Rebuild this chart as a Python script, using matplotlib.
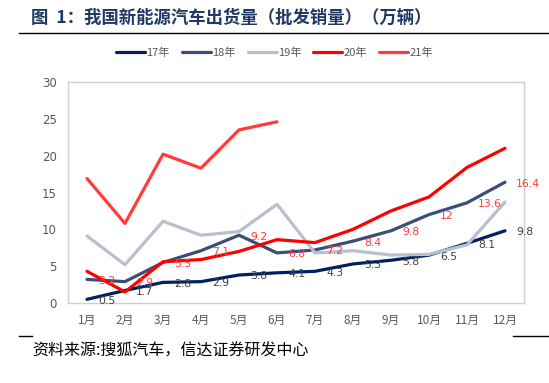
import matplotlib

matplotlib.use("Agg")
import matplotlib.pyplot as plt

plt.rcParams["font.family"] = ["Noto Sans CJK SC", "DejaVu Sans"]

months = ["1月", "2月", "3月", "4月", "5月", "6月",
          "7月", "8月", "9月", "10月", "11月", "12月"]
y17 = [0.5, 1.7, 2.8, 2.9, 3.8, 4.1, 4.3, 5.3, 5.8, 6.5, 8.1, 9.8]
y18 = [3.2, 2.9, 5.5, 7.1, 9.2, 6.8, 7.2, 8.4, 9.8, 12, 13.6, 16.4]
y19 = [9.1, 5.2, 11.1, 9.2, 9.7, 13.4, 6.8, 7.1, 6.5, 6.6, 7.9, 13.7]
y20 = [4.3, 1.5, 5.6, 5.9, 7.0, 8.6, 8.2, 10.0, 12.5, 14.4, 18.4, 21.0]
y21 = [16.9, 10.8, 20.2, 18.3, 23.5, 24.6]

series = [
    ("17年", y17, "#002060"),
    ("18年", y18, "#3B4E78"),
    ("19年", y19, "#B7C0CF"),
    ("20年", y20, "#FF0000"),
    ("21年", y21, "#FF3B3B"),
]

fig = plt.figure(figsize=(5.49, 3.83), dpi=100)
ax = fig.add_axes([68 / 549, 1 - 303 / 383, (524 - 68) / 549, (303 - 82) / 383])

x = list(range(len(months)))
for name, vals, color in series:
    ax.plot(x[:len(vals)], vals, color=color, lw=2.3, label=name,
            solid_capstyle="round")

# data labels: 17年 in dark grey, 18年 in red, placed right of the points
for vals, color in [(y17, "#404040"), (y18, "#FF3B3B")]:
    for i, v in enumerate(vals):
        ax.annotate(f"{v:g}", (i, v), xytext=(8, -1), textcoords="offset points",
                    ha="left", va="center", fontsize=7.8, color=color,
                    family="DejaVu Sans")

ax.set_xlim(-0.5, 11.5)
ax.set_ylim(0, 30)
ax.set_yticks(range(0, 31, 5))
ax.set_xticks(x)
ax.set_xticklabels(months)
ax.tick_params(length=0, labelsize=8.5, colors="#595959", pad=8)
for lab in ax.get_yticklabels():
    lab.set_family("DejaVu Sans")
for sp in ax.spines.values():
    sp.set_color("#C9D0DC")
    sp.set_linewidth(1)

leg = fig.legend(loc="center", bbox_to_anchor=(0.5, 1 - 53 / 383), ncol=5,
                 frameon=False, fontsize=8, handlelength=2.6, columnspacing=1.1,
                 handletextpad=0.1)
for t in leg.get_texts():
    t.set_color("#595959")

fig.text(31 / 549, 1 - 18 / 383, "图  1：我国新能源汽车出货量（批发销量）（万辆）",
         fontsize=12.5, fontweight="bold", color="#1F3864", va="center", ha="left")
fig.add_artist(plt.Line2D([19 / 549, 1], [1 - 33 / 383] * 2, color="black", lw=1))
fig.add_artist(plt.Line2D([19 / 549, 32 / 549], [1 - 336 / 383] * 2, color="black", lw=1))
fig.add_artist(plt.Line2D([513 / 549, 1], [1 - 336 / 383] * 2, color="black", lw=1))
fig.text(32 / 549, 1 - 351 / 383, "资料来源:搜狐汽车，信达证券研发中心",
         fontsize=11.5, color="black", va="center", ha="left", style="italic")

fig.savefig("out.png", dpi=100)
